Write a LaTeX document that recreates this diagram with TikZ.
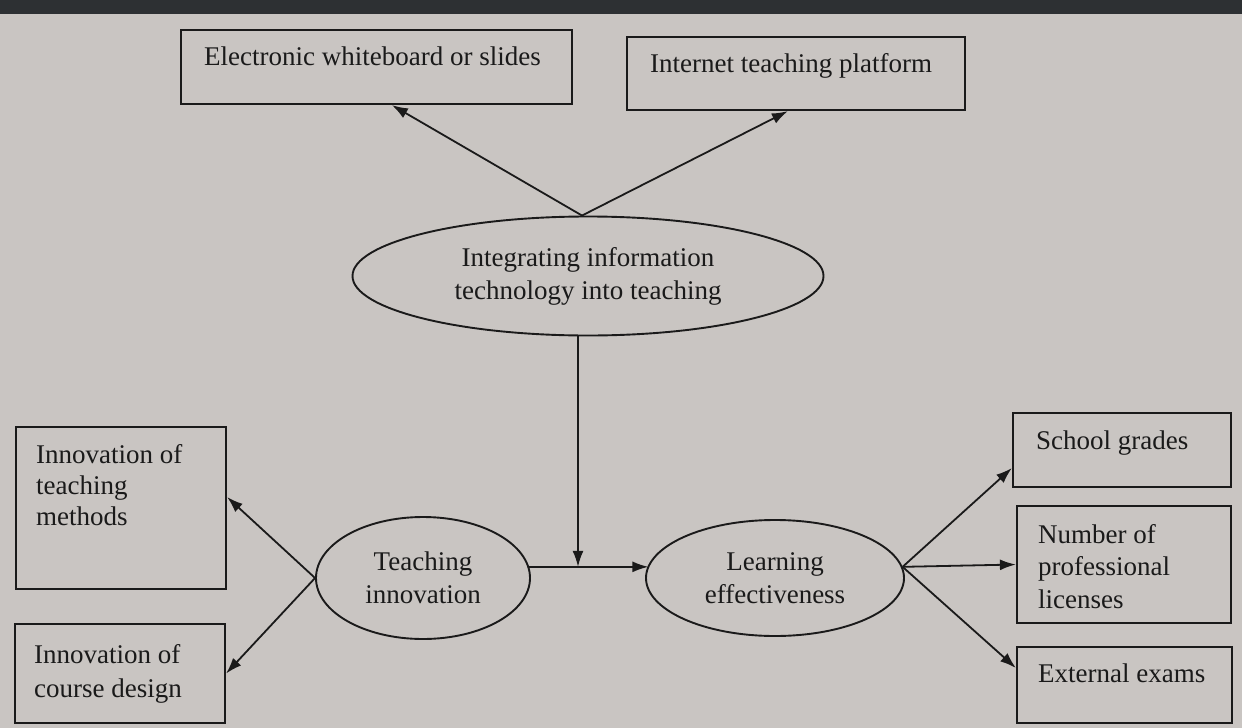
\documentclass[tikz,border=0pt]{standalone}
\usepackage{fontspec}
\setmainfont{Liberation Serif}
\usetikzlibrary{arrows.meta,shapes.geometric,calc}
\definecolor{paper}{HTML}{C9C5C2}
\definecolor{band}{HTML}{2D3033}
\definecolor{ink}{HTML}{1A1A1A}
\newcommand\diagfont{\fontsize{27}{32}\selectfont}
\newcommand\ovalfont{\fontsize{27}{33}\selectfont}
\begin{document}
\begin{tikzpicture}[x=1pt,y=-1pt,
  box/.style={draw=ink,line width=2.2pt,rectangle,inner sep=0pt},
  oval/.style={draw=ink,line width=1.9pt,ellipse,inner sep=0pt,align=center,font=\ovalfont,text=ink},
  lbl/.style={anchor=north west,inner sep=0pt,align=left,font=\diagfont,text=ink},
  arr/.style={draw=ink,line width=1.8pt,-{Latex[length=16pt,width=11pt]}},
]
\fill[paper] (0,0) rectangle (1242,728);
\fill[band] (0,0) rectangle (1242,14);
\useasboundingbox (0,0) rectangle (1242,728);

% boxes
\node[box,minimum width=391pt,minimum height=74pt] (wb) at (376.5,67) {};
\node[box,minimum width=338pt,minimum height=73pt] (itp) at (796,73.5) {};
\node[box,minimum width=210pt,minimum height=162pt] (meth) at (121,508) {};
\node[box,minimum width=210pt,minimum height=99pt] (course) at (120,673.5) {};
\node[box,minimum width=218pt,minimum height=74pt] (school) at (1122,450) {};
\node[box,minimum width=214pt,minimum height=117pt] (lic) at (1124,564.5) {};
\node[box,minimum width=215pt,minimum height=76pt] (ext) at (1124.5,685) {};

% box labels
\node[lbl] (wbt) at (204,46.5) {Electronic whiteboard or slides};
\node[lbl] (itpt) at (650,53.5) {Internet teaching platform};
\node[lbl,font=\fontsize{27}{31}\selectfont] (metht) at (36,444) {Innovation of\\teaching\\methods};
\node[lbl,font=\fontsize{27}{34}\selectfont] (courset) at (34,644) {Innovation of\\course design};
\node[lbl] (schoolt) at (1036,431) {School grades};
\node[lbl,font=\fontsize{27}{32.5}\selectfont] (lict) at (1038,524) {Number of\\professional\\licenses};
\node[lbl] (extt) at (1038,664) {External exams};

% ovals
\node[oval,minimum width=471pt,minimum height=119pt] (int) at (588,276) {Integrating information\\technology into teaching};
\node[oval,minimum width=214pt,minimum height=122pt] (teach) at (423,578) {Teaching\\innovation};
\node[oval,minimum width=258pt,minimum height=116pt] (learn) at (775,578) {Learning\\effectiveness};

% helper coordinates
\coordinate (itop) at ($(int.north)+(-6,0)$);
\coordinate (ibot) at ($(int.south)+(-10,0)$);
\coordinate (j) at (ibot |- teach.6);
\coordinate (lin) at (learn.174 |- teach.6);

% connectors
\draw[arr] (itop) -- ($(wb.south west)+(212,0)$);
\draw[arr] (itop) -- ($(itp.south west)+(162,0)$);
\draw[arr] (ibot) -- (j);
\draw[arr] (teach.6) -- (lin);
\draw[arr] (teach.west) -- ($(meth.east)+(0,-11)$);
\draw[arr] (teach.west) -- (course.east);
\draw[arr] (learn.5) -- ($(school.west)+(0,18)$);
\draw[arr] (learn.5) -- (lic.west);
\draw[arr] (learn.5) -- ($(ext.west)+(0,-17)$);
\end{tikzpicture}
\end{document}
